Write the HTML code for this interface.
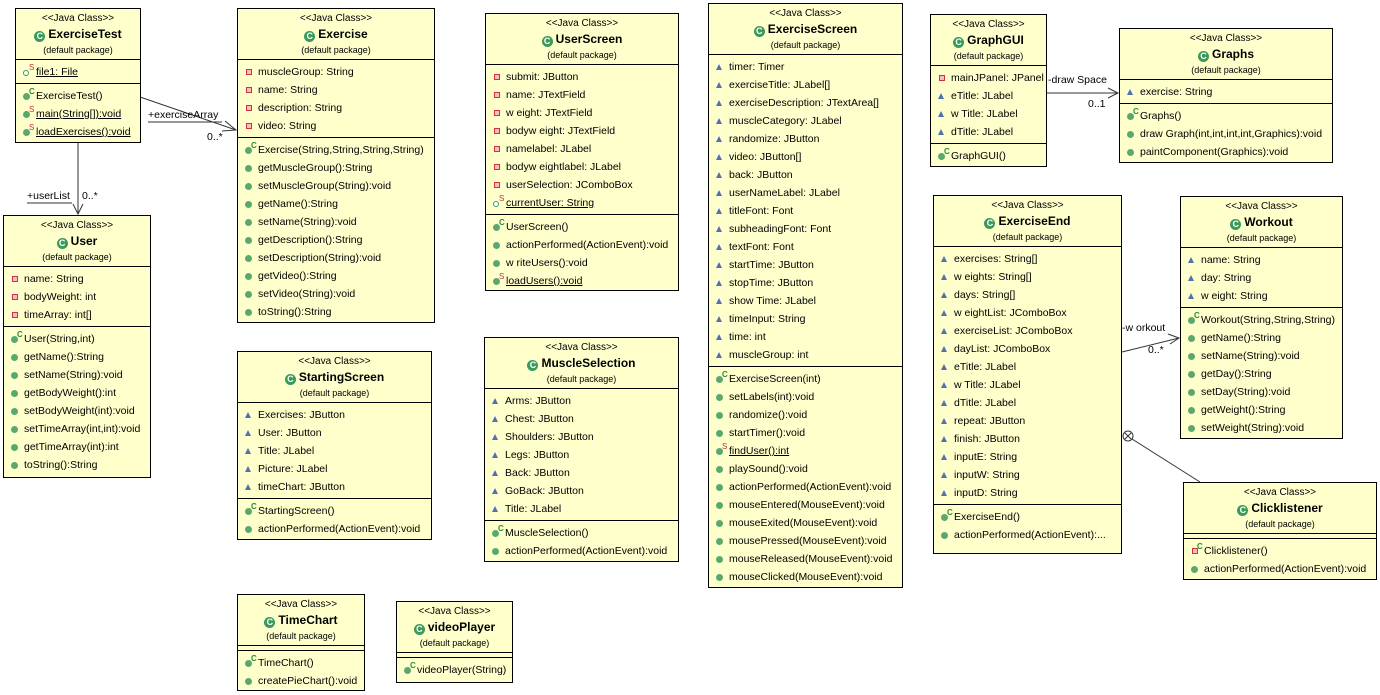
<!DOCTYPE html>
<html><head><meta charset="utf-8"><style>
body{margin:0;width:1380px;height:695px;background:#fff;position:relative;overflow:hidden;font-family:"Liberation Sans",Arial,sans-serif;color:#000}
.b{position:absolute;background:#ffffcc;border:1px solid #000;box-sizing:border-box;font-size:10.5px}
.h{height:51px;text-align:center;border-bottom:1px solid #000;box-sizing:border-box}
.st{font-size:10px;line-height:12px;padding-top:4px}
.n{font-size:12px;font-weight:bold;line-height:18px}
.n:before{content:"C";display:inline-block;width:11px;height:11px;border-radius:50%;background:#3a9a5a;color:#fff;font-size:9px;line-height:11px;margin-right:3px;vertical-align:-1px}
.pk{font-size:9px;line-height:14px}
.s{padding:3px 0 2px 0;border-bottom:1px solid #000}
.s:last-child{border-bottom:none}
.e{height:4px;border-bottom:1px solid #000}
.r{height:18px;line-height:18px;padding-left:20px;position:relative;white-space:nowrap}
.r:before{content:"";position:absolute;left:7px;top:6px;width:7px;height:7px;border-radius:50%;background:#5aa86e;box-sizing:border-box}
.p:before{border-radius:0;background:#f3c0c0;border:1px solid #d03040;width:6px;height:6px;left:8px}
.t:before{border-radius:0;background:none;width:0;height:0;border-left:3.5px solid transparent;border-right:3.5px solid transparent;border-bottom:6px solid #5070b0;left:7px;top:6px}
.f:before{background:#fff;border:1.5px solid #3a9a5a;width:6px;height:6px;left:7px;top:7px}
.sup{position:absolute;left:13px;top:-4px;font-size:8px;color:#c03040}
.supc{position:absolute;left:13px;top:-4px;font-size:8px;color:#2a8a3a;font-weight:bold}
u{text-decoration:underline}
.lb{position:absolute;font-size:10.5px;white-space:nowrap}
</style></head><body>
<svg width="1380" height="695" style="position:absolute;left:0;top:0" fill="none" stroke="#333" stroke-width="1">
<line x1="140" y1="97" x2="236" y2="130"/><polyline points="225,121 236,130 222,131"/>
<line x1="148" y1="122" x2="222" y2="122"/>
<line x1="78" y1="142" x2="78" y2="214"/><polyline points="73,204 78,214 83,204"/>
<line x1="27" y1="203" x2="72" y2="203"/>
<line x1="1046" y1="93" x2="1118" y2="93"/><polyline points="1108,88 1118,93 1108,98"/>
<line x1="1122" y1="352" x2="1179" y2="338"/><polyline points="1168,334 1179,338 1170,344"/>
<line x1="1132" y1="439" x2="1200" y2="482"/>
<circle cx="1128" cy="436" r="5"/><line x1="1125" y1="433" x2="1131" y2="439"/><line x1="1131" y1="433" x2="1125" y2="439"/>
</svg>
<div class="lb" style="left:148px;top:109px">+exerciseArray</div>
<div class="lb" style="left:207px;top:131px">0..*</div>
<div class="lb" style="left:27px;top:190px">+userList</div>
<div class="lb" style="left:82px;top:190px">0..*</div>
<div class="lb" style="left:1048px;top:74px">-draw Space</div>
<div class="lb" style="left:1088px;top:98px">0..1</div>
<div class="lb" style="left:1122px;top:322px">-w orkout</div>
<div class="lb" style="left:1148px;top:344px">0..*</div>

<div class="b" style="left:15px;top:8px;width:126px;height:135px"><div class="h"><div class="st">&lt;&lt;Java Class&gt;&gt;</div><div class="n">ExerciseTest</div><div class="pk">(default package)</div></div>
<div class="s"><div class="r f"><span class="sup">S</span><u>file1: File</u></div></div>
<div class="s"><div class="r"><span class="supc">C</span>ExerciseTest()</div><div class="r"><span class="sup">S</span><u>main(String[]):void</u></div><div class="r"><span class="sup">S</span><u>loadExercises():void</u></div></div></div>

<div class="b" style="left:237px;top:8px;width:198px;height:315px"><div class="h"><div class="st">&lt;&lt;Java Class&gt;&gt;</div><div class="n">Exercise</div><div class="pk">(default package)</div></div>
<div class="s"><div class="r p">muscleGroup: String</div><div class="r p">name: String</div><div class="r p">description: String</div><div class="r p">video: String</div></div>
<div class="s"><div class="r"><span class="supc">C</span>Exercise(String,String,String,String)</div><div class="r">getMuscleGroup():String</div><div class="r">setMuscleGroup(String):void</div><div class="r">getName():String</div><div class="r">setName(String):void</div><div class="r">getDescription():String</div><div class="r">setDescription(String):void</div><div class="r">getVideo():String</div><div class="r">setVideo(String):void</div><div class="r">toString():String</div></div></div>

<div class="b" style="left:485px;top:13px;width:194px;height:278px"><div class="h"><div class="st">&lt;&lt;Java Class&gt;&gt;</div><div class="n">UserScreen</div><div class="pk">(default package)</div></div>
<div class="s"><div class="r p">submit: JButton</div><div class="r p">name: JTextField</div><div class="r p">w eight: JTextField</div><div class="r p">bodyw eight: JTextField</div><div class="r p">namelabel: JLabel</div><div class="r p">bodyw eightlabel: JLabel</div><div class="r p">userSelection: JComboBox</div><div class="r f"><span class="sup">S</span><u>currentUser: String</u></div></div>
<div class="s"><div class="r"><span class="supc">C</span>UserScreen()</div><div class="r">actionPerformed(ActionEvent):void</div><div class="r">w riteUsers():void</div><div class="r"><span class="sup">S</span><u>loadUsers():void</u></div></div></div>

<div class="b" style="left:708px;top:3px;width:195px;height:585px"><div class="h"><div class="st">&lt;&lt;Java Class&gt;&gt;</div><div class="n">ExerciseScreen</div><div class="pk">(default package)</div></div>
<div class="s"><div class="r t">timer: Timer</div><div class="r t">exerciseTitle: JLabel[]</div><div class="r t">exerciseDescription: JTextArea[]</div><div class="r t">muscleCategory: JLabel</div><div class="r t">randomize: JButton</div><div class="r t">video: JButton[]</div><div class="r t">back: JButton</div><div class="r t">userNameLabel: JLabel</div><div class="r t">titleFont: Font</div><div class="r t">subheadingFont: Font</div><div class="r t">textFont: Font</div><div class="r t">startTime: JButton</div><div class="r t">stopTime: JButton</div><div class="r t">show Time: JLabel</div><div class="r t">timeInput: String</div><div class="r t">time: int</div><div class="r t">muscleGroup: int</div></div>
<div class="s"><div class="r"><span class="supc">C</span>ExerciseScreen(int)</div><div class="r">setLabels(int):void</div><div class="r">randomize():void</div><div class="r">startTimer():void</div><div class="r"><span class="sup">S</span><u>findUser():int</u></div><div class="r">playSound():void</div><div class="r">actionPerformed(ActionEvent):void</div><div class="r">mouseEntered(MouseEvent):void</div><div class="r">mouseExited(MouseEvent):void</div><div class="r">mousePressed(MouseEvent):void</div><div class="r">mouseReleased(MouseEvent):void</div><div class="r">mouseClicked(MouseEvent):void</div></div></div>

<div class="b" style="left:930px;top:14px;width:117px;height:153px"><div class="h"><div class="st">&lt;&lt;Java Class&gt;&gt;</div><div class="n">GraphGUI</div><div class="pk">(default package)</div></div>
<div class="s"><div class="r p">mainJPanel: JPanel</div><div class="r t">eTitle: JLabel</div><div class="r t">w Title: JLabel</div><div class="r t">dTitle: JLabel</div></div>
<div class="s"><div class="r"><span class="supc">C</span>GraphGUI()</div></div></div>

<div class="b" style="left:1119px;top:28px;width:214px;height:135px"><div class="h"><div class="st">&lt;&lt;Java Class&gt;&gt;</div><div class="n">Graphs</div><div class="pk">(default package)</div></div>
<div class="s"><div class="r t">exercise: String</div></div>
<div class="s"><div class="r"><span class="supc">C</span>Graphs()</div><div class="r">draw Graph(int,int,int,int,Graphics):void</div><div class="r">paintComponent(Graphics):void</div></div></div>

<div class="b" style="left:3px;top:215px;width:148px;height:263px"><div class="h"><div class="st">&lt;&lt;Java Class&gt;&gt;</div><div class="n">User</div><div class="pk">(default package)</div></div>
<div class="s"><div class="r p">name: String</div><div class="r p">bodyWeight: int</div><div class="r p">timeArray: int[]</div></div>
<div class="s"><div class="r"><span class="supc">C</span>User(String,int)</div><div class="r">getName():String</div><div class="r">setName(String):void</div><div class="r">getBodyWeight():int</div><div class="r">setBodyWeight(int):void</div><div class="r">setTimeArray(int,int):void</div><div class="r">getTimeArray(int):int</div><div class="r">toString():String</div></div></div>

<div class="b" style="left:237px;top:351px;width:195px;height:189px"><div class="h"><div class="st">&lt;&lt;Java Class&gt;&gt;</div><div class="n">StartingScreen</div><div class="pk">(default package)</div></div>
<div class="s"><div class="r t">Exercises: JButton</div><div class="r t">User: JButton</div><div class="r t">Title: JLabel</div><div class="r t">Picture: JLabel</div><div class="r t">timeChart: JButton</div></div>
<div class="s"><div class="r"><span class="supc">C</span>StartingScreen()</div><div class="r">actionPerformed(ActionEvent):void</div></div></div>

<div class="b" style="left:484px;top:337px;width:195px;height:225px"><div class="h"><div class="st">&lt;&lt;Java Class&gt;&gt;</div><div class="n">MuscleSelection</div><div class="pk">(default package)</div></div>
<div class="s"><div class="r t">Arms: JButton</div><div class="r t">Chest: JButton</div><div class="r t">Shoulders: JButton</div><div class="r t">Legs: JButton</div><div class="r t">Back: JButton</div><div class="r t">GoBack: JButton</div><div class="r t">Title: JLabel</div></div>
<div class="s"><div class="r"><span class="supc">C</span>MuscleSelection()</div><div class="r">actionPerformed(ActionEvent):void</div></div></div>

<div class="b" style="left:933px;top:195px;width:189px;height:359px"><div class="h"><div class="st">&lt;&lt;Java Class&gt;&gt;</div><div class="n">ExerciseEnd</div><div class="pk">(default package)</div></div>
<div class="s"><div class="r t">exercises: String[]</div><div class="r t">w eights: String[]</div><div class="r t">days: String[]</div><div class="r t">w eightList: JComboBox</div><div class="r t">exerciseList: JComboBox</div><div class="r t">dayList: JComboBox</div><div class="r t">eTitle: JLabel</div><div class="r t">w Title: JLabel</div><div class="r t">dTitle: JLabel</div><div class="r t">repeat: JButton</div><div class="r t">finish: JButton</div><div class="r t">inputE: String</div><div class="r t">inputW: String</div><div class="r t">inputD: String</div></div>
<div class="s"><div class="r"><span class="supc">C</span>ExerciseEnd()</div><div class="r">actionPerformed(ActionEvent):...</div></div></div>

<div class="b" style="left:1180px;top:196px;width:163px;height:243px"><div class="h"><div class="st">&lt;&lt;Java Class&gt;&gt;</div><div class="n">Workout</div><div class="pk">(default package)</div></div>
<div class="s"><div class="r t">name: String</div><div class="r t">day: String</div><div class="r t">w eight: String</div></div>
<div class="s"><div class="r"><span class="supc">C</span>Workout(String,String,String)</div><div class="r">getName():String</div><div class="r">setName(String):void</div><div class="r">getDay():String</div><div class="r">setDay(String):void</div><div class="r">getWeight():String</div><div class="r">setWeight(String):void</div></div></div>

<div class="b" style="left:1183px;top:482px;width:194px;height:98px"><div class="h"><div class="st">&lt;&lt;Java Class&gt;&gt;</div><div class="n">Clicklistener</div><div class="pk">(default package)</div></div>
<div class="e"></div>
<div class="s"><div class="r p"><span class="supc">C</span>Clicklistener()</div><div class="r">actionPerformed(ActionEvent):void</div></div></div>

<div class="b" style="left:237px;top:594px;width:128px;height:97px"><div class="h"><div class="st">&lt;&lt;Java Class&gt;&gt;</div><div class="n">TimeChart</div><div class="pk">(default package)</div></div>
<div class="e"></div>
<div class="s"><div class="r"><span class="supc">C</span>TimeChart()</div><div class="r">createPieChart():void</div></div></div>

<div class="b" style="left:396px;top:601px;width:117px;height:82px"><div class="h"><div class="st">&lt;&lt;Java Class&gt;&gt;</div><div class="n">videoPlayer</div><div class="pk">(default package)</div></div>
<div class="e"></div>
<div class="s"><div class="r"><span class="supc">C</span>videoPlayer(String)</div></div></div>
</body></html>
